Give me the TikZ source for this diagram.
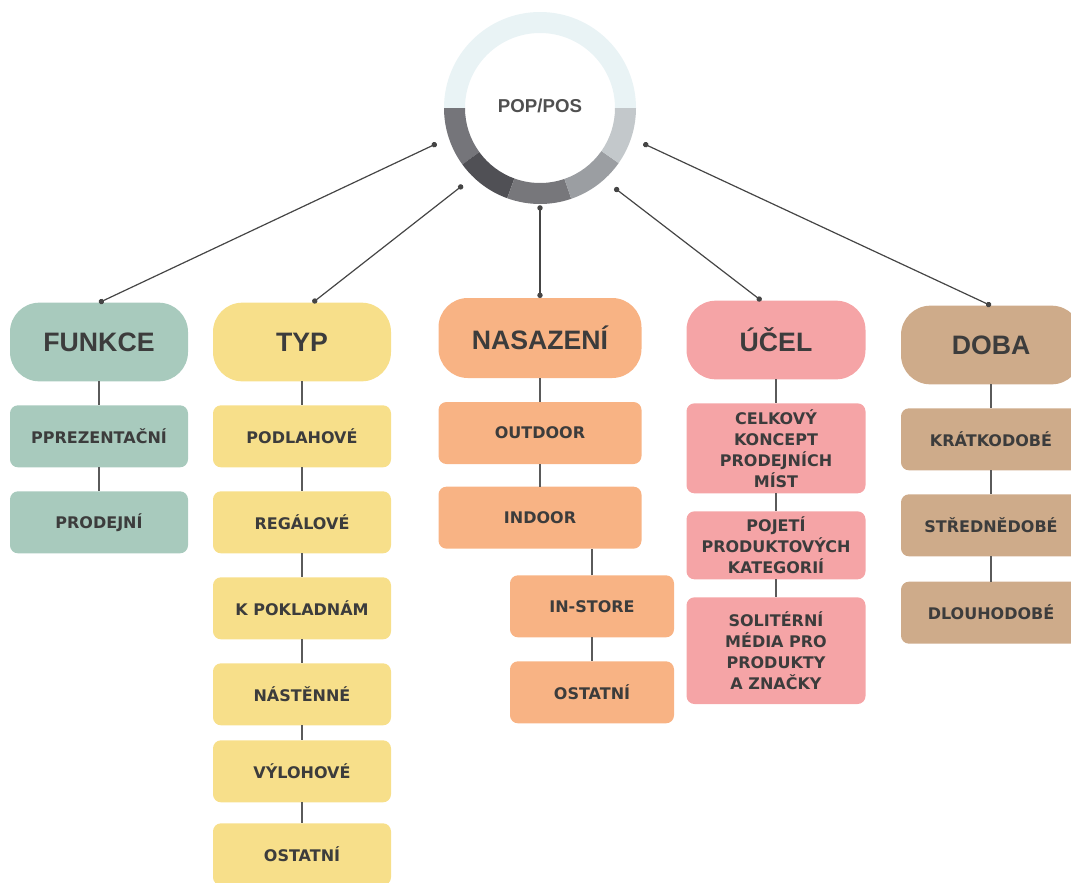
\documentclass[tikz,border=0pt]{standalone}
\usepackage{fontspec}
\setmainfont{Liberation Sans}
\newfontfamily\boxfont{DejaVu Sans}
\usetikzlibrary{arrows.meta, positioning, calc}
\definecolor{popGreen}{HTML}{A8CABD}
\definecolor{popYellow}{HTML}{F7DF8A}
\definecolor{popOrange}{HTML}{F8B384}
\definecolor{popPink}{HTML}{F5A4A6}
\definecolor{popTan}{HTML}{CEAB8A}
\definecolor{popText}{HTML}{3C3C3C}
\definecolor{popLine}{HTML}{454545}
\definecolor{popStem}{HTML}{5A5A5A}
\definecolor{ringTop}{HTML}{E9F3F5}
\definecolor{ringA}{HTML}{75757A}
\definecolor{ringB}{HTML}{505055}
\definecolor{ringC}{HTML}{77777B}
\definecolor{ringD}{HTML}{9B9EA2}
\definecolor{ringE}{HTML}{C3C8CB}

\begin{document}
\begin{tikzpicture}[
  x=0.75pt, y=-0.75pt,
  node distance=18pt,
  headbox/.style={
    rectangle, rounded corners=22pt, outer sep=0pt,
    minimum width=133.5pt, minimum height=59pt,
    font=\fontsize{20}{24}\selectfont\bfseries, text=popText,
  },
  itembox/.style={
    rectangle, rounded corners=6pt, inner sep=2pt, outer sep=0pt,
    minimum width=133.5pt, minimum height=46.5pt,
    font=\boxfont\fontsize{12}{15.75}\selectfont\bfseries, text=popText,
    align=center,
  },
  hubline/.style={{Circle[length=4pt]}-{Circle[length=4pt]}, line width=0.9pt, popLine},
  stem/.style={line width=1pt, popStem},
]
\useasboundingbox (0,0) rectangle (1071,882);

% Hub with ring
\node[circle, minimum size=163.5pt, inner sep=0pt,
  font=\fontsize{14}{16}\selectfont\bfseries, text=popText!90] (hub) at (540,108) {\raisebox{4pt}{POP/POS}};
\foreach \a/\b/\c in {0/180/ringTop, 180/216/ringA, 216/250/ringB, 250/289/ringC, 289/325/ringD, 325/360/ringE}
  \fill[\c] ($(hub.center)+(\a:72pt)$) arc[start angle=\a, end angle=\b, radius=72pt]
    -- ($(hub.center)+(\b:56.25pt)$) arc[start angle=\b, end angle=\a, radius=56.25pt] -- cycle;

% FUNKCE
\node[headbox, fill=popGreen] (funkce) at (99,342) {FUNKCE};
\node[itembox, fill=popGreen, below=of funkce] (f1) {PPREZENTAČNÍ};
\node[itembox, fill=popGreen, below=of f1] (f2) {PRODEJNÍ};

% TYP
\node[headbox, fill=popYellow] (typ) at (302,342) {TYP};
\node[itembox, fill=popYellow, below=of typ] (t1) {PODLAHOVÉ};
\node[itembox, fill=popYellow, below=of t1] (t2) {REGÁLOVÉ};
\node[itembox, fill=popYellow, below=of t2] (t3) {K POKLADNÁM};
\node[itembox, fill=popYellow, below=of t3] (t4) {NÁSTĚNNÉ};
\node[itembox, fill=popYellow, below=11.25pt of t4] (t5) {VÝLOHOVÉ};
\node[itembox, fill=popYellow, below=15.75pt of t5] (t6) {OSTATNÍ};

% NASAZENI
\node[headbox, fill=popOrange, minimum width=152.25pt, minimum height=60pt] (nasazeni) at (540,338) {NASAZENÍ};
\node[itembox, fill=popOrange, minimum width=152.25pt, below=of nasazeni] (n1) {OUTDOOR};
\node[itembox, fill=popOrange, minimum width=152.25pt, below=17pt of n1] (n2) {INDOOR};
\node[itembox, fill=popOrange, minimum width=123pt, below=20pt of n2, xshift=39pt] (n3) {IN-STORE};
\node[itembox, fill=popOrange, minimum width=123pt, below=of n3] (n4) {OSTATNÍ};

% UCEL
\node[headbox, fill=popPink, minimum width=134.25pt] (ucel) at (776,340) {ÚČEL};
\node[itembox, fill=popPink, minimum width=134.25pt, minimum height=67.5pt, below=of ucel] (u1)
  {CELKOVÝ\\KONCEPT\\PRODEJNÍCH\\MÍST};
\node[itembox, fill=popPink, minimum width=134.25pt, minimum height=51pt, below=13.5pt of u1] (u2)
  {POJETÍ\\PRODUKTOVÝCH\\KATEGORIÍ};
\node[itembox, fill=popPink, minimum width=134.25pt, minimum height=80pt, below=13.5pt of u2] (u3)
  {SOLITÉRNÍ\\MÉDIA PRO\\PRODUKTY\\A ZNAČKY};

% DOBA
\node[headbox, fill=popTan, minimum width=135pt] (doba) at (991,345) {DOBA};
\node[itembox, fill=popTan, minimum width=135pt, below=of doba] (d1) {KRÁTKODOBÉ};
\node[itembox, fill=popTan, minimum width=135pt, below=of d1] (d2) {STŘEDNĚDOBÉ};
\node[itembox, fill=popTan, minimum width=135pt, below=19pt of d2] (d3) {DLOUHODOBÉ};

% Hub connectors
\draw[hubline] (hub.199) -- (funkce.north);
\draw[hubline] (hub.225) -- ([xshift=8pt]typ.north);
\draw[hubline] ([yshift=9pt]hub.south) -- (nasazeni.north);
\draw[hubline] (hub.313) -- ([xshift=-11pt]ucel.north);
\draw[hubline] (hub.341) -- (doba.north);

% Stems
\draw[stem] (funkce) -- (f1) (f1) -- (f2);
\draw[stem] (typ) -- (t1) (t1) -- (t2) (t2) -- (t3) (t3) -- (t4) (t4) -- (t5) (t5) -- (t6);
\draw[stem] (nasazeni) -- (n1) (n1) -- (n2);
\draw[stem] (n3.north) -- (n3.north |- n2.south) (n3) -- (n4);
\draw[stem] (ucel) -- (u1) (u1) -- (u2) (u2) -- (u3);
\draw[stem] (doba) -- (d1) (d1) -- (d2) (d2) -- (d3);

\end{tikzpicture}
\end{document}
